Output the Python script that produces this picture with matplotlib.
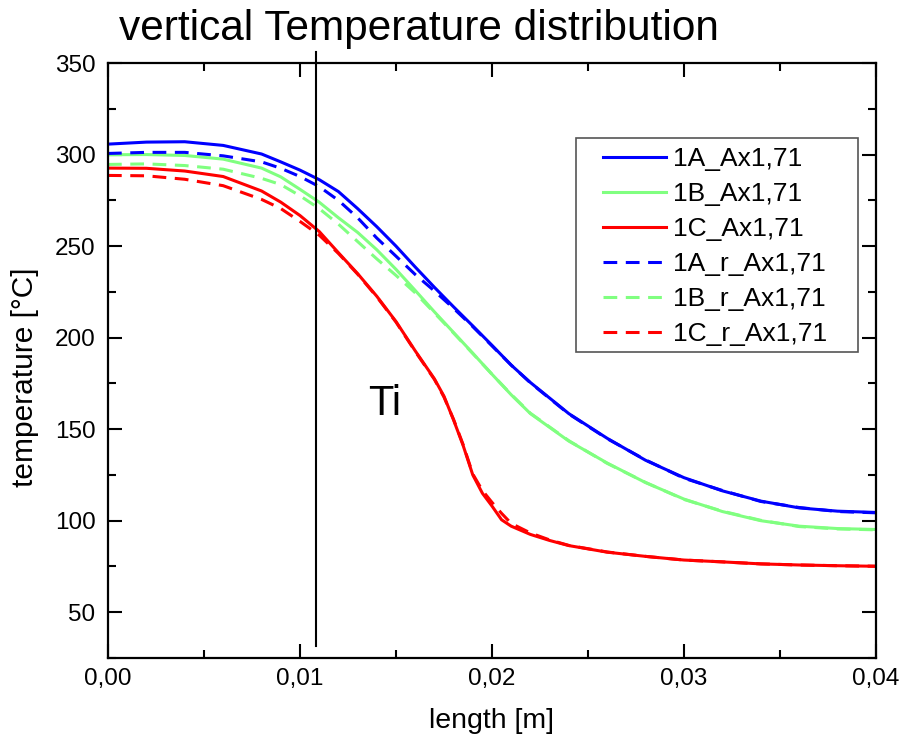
import matplotlib
matplotlib.use('Agg')
import matplotlib.pyplot as plt
from matplotlib.patches import Rectangle
from matplotlib.ticker import MultipleLocator, FuncFormatter

plt.rcParams['font.family'] = ['Liberation Sans', 'DejaVu Sans']

# data
length = [0.0, 0.002, 0.004, 0.006, 0.008, 0.009, 0.010, 0.011, 0.012, 0.013,
          0.014, 0.015, 0.016, 0.017, 0.018, 0.019, 0.020, 0.021, 0.022, 0.024,
          0.026, 0.028, 0.030, 0.032, 0.034, 0.036, 0.038, 0.040]
t_1A = [305.7, 306.8, 307.0, 305.0, 300.3, 296.0, 291.5, 286.3, 279.8, 270.5,
        260.6, 250.0, 238.6, 227.5, 216.8, 206.4, 195.8, 185.0, 175.5, 158.5,
        145.0, 133.0, 123.5, 116.3, 110.7, 107.0, 105.2, 104.5]
t_1B = [299.9, 300.0, 299.5, 297.5, 292.6, 287.8, 281.0, 274.0, 265.5, 257.5,
        248.0, 237.3, 225.8, 214.1, 202.8, 191.5, 180.0, 168.8, 158.5, 143.5,
        131.5, 120.8, 111.8, 105.0, 100.0, 97.0, 95.7, 95.2]
t_1A_r = [300.6, 301.2, 301.2, 299.3, 296.0, 292.5, 288.0, 282.5, 275.0, 265.5,
          254.4, 244.5, 234.5, 225.5, 216.0, 206.0, 195.5, 185.0, 175.3, 158.3,
          144.8, 133.2, 123.2, 116.5, 110.5, 107.2, 105.0, 104.3]
t_1B_r = [294.6, 294.9, 294.0, 292.0, 287.0, 283.6, 277.5, 270.5, 262.0, 252.5,
          243.0, 234.0, 224.5, 213.5, 202.5, 191.3, 180.0, 169.0, 158.7, 143.7,
          131.3, 120.9, 111.6, 105.2, 100.2, 96.8, 95.5, 95.0]

length_c = [0.0, 0.002, 0.004, 0.006, 0.008, 0.009, 0.010, 0.011, 0.012, 0.013,
            0.014, 0.015, 0.016, 0.017, 0.0175, 0.018, 0.0185, 0.019, 0.0195,
            0.020, 0.0205, 0.021, 0.022, 0.023, 0.024, 0.026, 0.028, 0.030,
            0.032, 0.034, 0.036, 0.038, 0.040]
t_1C = [292.6, 292.5, 291.0, 288.0, 280.1, 274.0, 266.7, 258.0, 246.4, 235.0,
        222.6, 208.8, 192.8, 177.5, 168.0, 155.0, 141.0, 125.0, 115.0,
        108.0, 100.5, 97.0, 92.5, 89.2, 86.4, 82.8, 80.5, 78.5,
        77.5, 76.4, 75.8, 75.4, 75.1]
t_1C_r = [288.6, 288.4, 286.5, 283.0, 275.5, 270.5, 263.5, 256.0, 246.0, 234.7,
          222.3, 208.5, 192.5, 177.2, 167.5, 155.3, 141.5, 125.5, 116.5,
          110.0, 104.0, 98.5, 93.3, 89.5, 86.5, 82.9, 80.5, 78.5,
          77.5, 76.4, 75.8, 75.4, 75.1]

marker_x = 0.01085
marker_y = [356, 31.5]

fig = plt.figure(figsize=(8.99, 7.45), dpi=100)
ax = fig.add_axes([0.1201, 0.1168, 0.8543, 0.7986])

lw = 2.2
dash = (4.5, 2.8)
ax.plot(length, t_1A, color='#0000ff', lw=lw, label='1A_Ax1,71')
ax.plot(length, t_1B, color='#80ff80', lw=lw, label='1B_Ax1,71')
ax.plot(length_c, t_1C, color='#ff0000', lw=lw, label='1C_Ax1,71')
ax.plot(length, t_1A_r, color='#0000ff', lw=lw, dashes=dash, label='1A_r_Ax1,71')
ax.plot(length, t_1B_r, color='#80ff80', lw=lw, dashes=dash, label='1B_r_Ax1,71')
ax.plot(length_c, t_1C_r, color='#ff0000', lw=lw, dashes=dash, label='1C_r_Ax1,71')

ax.plot([marker_x, marker_x], marker_y, color='black', lw=1.5, clip_on=False)

ax.set_xlim(0, 0.04)
ax.set_ylim(25, 350)
ax.xaxis.set_major_locator(MultipleLocator(0.01))
ax.xaxis.set_minor_locator(MultipleLocator(0.005))
ax.yaxis.set_major_locator(MultipleLocator(50))
ax.yaxis.set_minor_locator(MultipleLocator(25))
ax.xaxis.set_major_formatter(FuncFormatter(lambda v, p: f'{v:.2f}'.replace('.', ',')))
ax.set_yticks([50, 100, 150, 200, 250, 300, 350])

ax.tick_params(which='both', direction='in', top=True, right=True, width=1.5)
ax.tick_params(which='major', length=10, labelsize=17.5)
ax.tick_params(axis='x', which='major', pad=7)
ax.tick_params(axis='y', which='major', pad=9)
ax.tick_params(which='minor', length=6)
for s in ax.spines.values():
    s.set_linewidth(1.6)

ax.set_xlabel('length [m]', fontsize=20.5, labelpad=13)
ax.set_ylabel('temperature [°C]', fontsize=21.5)
ax.yaxis.set_label_coords(-0.09, 0.472)

ax.text(0.01354, 157.5, 'Ti', fontsize=30, ha='left', va='baseline')

fig.text(0.466, 1 - 40 / 745, 'vertical Temperature distribution', fontsize=30.5,
         ha='center', va='baseline')

# legend frame drawn separately (wider side padding than top/bottom)
ax.add_patch(Rectangle((0.6094, 0.5143), 0.3672, 0.3597, transform=ax.transAxes,
                       facecolor='white', edgecolor='#555555', lw=1.2, zorder=4))
leg = ax.legend(loc='upper left', bbox_to_anchor=(0.6445, 0.8588), fontsize=19,
                handlelength=2.4, handletextpad=0.27, labelspacing=0.42,
                borderpad=0, frameon=False, borderaxespad=0)
leg.set_zorder(5)

fig.savefig('out.png', dpi=100)
